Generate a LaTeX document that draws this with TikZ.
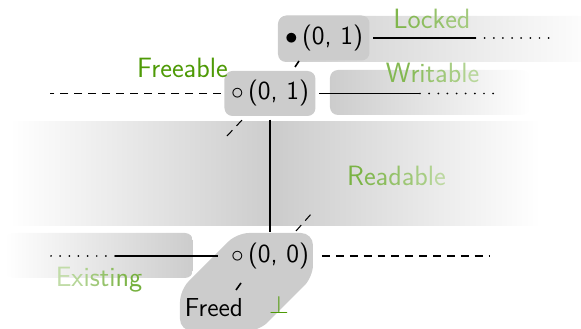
\documentclass[tikz,border=0pt]{standalone}
\usepackage{tikz}
\usetikzlibrary{positioning}
\usepackage{xcolor}
\definecolor{Leaf}{HTML}{4E9A06}
\colorlet{Chip}{black!20}
\newcommand\leafch[2]{\textcolor{Leaf!#1}{#2}}
\newcommand\bigsf{\fontsize{14.8}{17}\selectfont\sffamily}
\newcommand\labelsf{\fontsize{15.9}{19}\selectfont\sffamily}
\tikzset{
  tuple/.style={fill=Chip, rounded corners=0.16cm, minimum width=1.82cm,
    minimum height=0.9cm, inner sep=1pt, outer sep=2pt, font=\bigsf},
  band/.style={rounded corners=0.16cm},
  seg/.style={line width=1.1pt},
  dotseg/.style={line width=1.1pt, line cap=round, dash pattern=on 0pt off 5.2pt},
  dashseg/.style={line width=0.6pt, dash pattern=on 4.5pt off 3.4pt},
  tick/.style={line width=0.9pt},
}

\begin{document}
\begin{tikzpicture}[tag/.style={font=\labelsf}]
  \useasboundingbox (-5.4,-1.46) rectangle (6.22,5.12);
  % shaded bands
  \shade[left color=white, right color=white, middle color=Chip] (-5.2,0.6) rectangle (5.4,2.68);
  \shade[band, left color=Chip, right color=white] (0.16,3.88) rectangle (6.6,4.8);
  \shade[band, left color=Chip, right color=white] (1.2,2.82) rectangle (5.2,3.72);
  \shade[band, left color=white, right color=Chip] (-5.3,-0.44) rectangle (-1.54,0.46);
  % corner holding (0,0) and Freed
  \fill[Chip, rounded corners=0.24cm] (-0.66,0.46) -- (0.86,0.46) -- (0.86,-0.42)
    -- (-0.22,-1.5) -- (-1.8,-1.5) -- (-1.8,-0.68) -- cycle;

  \node[tuple, fill=none, minimum width=2.08cm, minimum height=0.96cm, outer sep=0pt] (zz) at (0,0) {$\circ$\,(0, 0)};
  \node[tuple] (zo) at (0,3.25) {$\circ$\,(0, 1)};
  \node[tuple] (lk) at (1.08,4.36) {$\bullet$\,(0, 1)};
  \node[font=\bigsf] (freed) at (-1.12,-1.04) {Freed};
  \node[font=\bigsf, text=Leaf] (bot) at (0.18,-0.97) {$\perp$};

  \coordinate[right=2.05cm of lk] (lkmid);
  \coordinate[right=1.5cm of lkmid] (lkend);
  \coordinate[right=2.02cm of zo] (zomid);
  \coordinate[right=1.54cm of zomid] (zoend);
  \coordinate[left=3.42cm of zo] (zofree);
  \coordinate[right=3.36cm of zz] (zzfree);
  \coordinate[left=2.06cm of zz] (zzmid);
  \coordinate[left=1.46cm of zzmid] (zzend);

  \draw[seg] (lk) -- (lkmid);
  \draw[dotseg] (lkmid) -- (lkend);
  \draw[seg] (zo) -- (zomid);
  \draw[dotseg] (zomid) -- (zoend);
  \draw[dashseg] (zo) -- (zofree);
  \draw[seg] (zo) -- (zz);
  \draw[dashseg] (zz) -- (zzfree);
  \draw[seg] (zz) -- (zzmid);
  \draw[dotseg] (zzmid) -- (zzend);

  % diagonal stubs
  \draw[dashseg] (-0.86,2.4) -- (-0.54,2.74);
  \draw[dashseg] (0.52,0.5) -- (0.84,0.86);
  \draw[tick] (0.5,3.78) -- (0.58,3.9);
  \draw[tick] (-0.68,-0.68) -- (-0.58,-0.54);

  \node[tag] (locked) at (3.24,4.74) {\leafch{72}{L}\leafch{68}{o}\leafch{64}{c}\leafch{60}{k}\leafch{56}{e}\leafch{52}{d}};
  \node[tag] (writable) at (3.25,3.67) {\leafch{70}{W}\leafch{66}{r}\leafch{62}{i}\leafch{58}{t}\leafch{54}{a}\leafch{50}{b}\leafch{45}{l}\leafch{40}{e}};
  \node[tag, text=Leaf] (freeable) at (-1.75,3.76) {Freeable};
  \node[tag] (readable) at (2.53,1.61) {\leafch{75}{R}\leafch{70}{e}\leafch{65}{a}\leafch{60}{d}\leafch{55}{a}\leafch{50}{b}\leafch{44}{l}\leafch{38}{e}};
  \node[tag] (existing) at (-3.42,-0.47) {\leafch{35}{E}\leafch{41}{x}\leafch{47}{i}\leafch{53}{s}\leafch{59}{t}\leafch{65}{i}\leafch{72}{n}\leafch{78}{g}};
\end{tikzpicture}
\end{document}
